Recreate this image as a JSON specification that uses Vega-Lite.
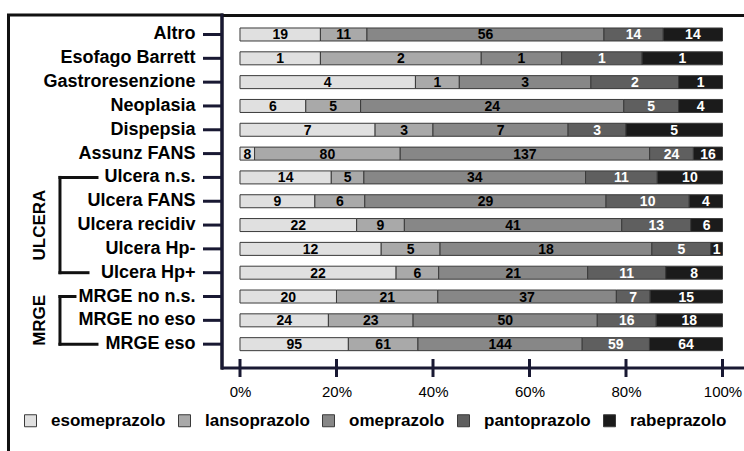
{
  "$schema": "https://vega.github.io/schema/vega-lite/v6.json",
  "autosize": {"type": "none"},
  "width": 522,
  "height": 436,
  "padding": {"left": 222, "top": 15, "right": 0, "bottom": 0},
  "background": "white",
  "config": {
    "view": {"stroke": null},
    "font": "Liberation Sans",
    "text": {"font": "Liberation Sans"}
  },
  "datasets": {
    "uso": [
      {"c": "Altro", "d": "esomeprazolo", "n": 19}, {"c": "Altro", "d": "lansoprazolo", "n": 11}, {"c": "Altro", "d": "omeprazolo", "n": 56}, {"c": "Altro", "d": "pantoprazolo", "n": 14}, {"c": "Altro", "d": "rabeprazolo", "n": 14},
      {"c": "Esofago Barrett", "d": "esomeprazolo", "n": 1}, {"c": "Esofago Barrett", "d": "lansoprazolo", "n": 2}, {"c": "Esofago Barrett", "d": "omeprazolo", "n": 1}, {"c": "Esofago Barrett", "d": "pantoprazolo", "n": 1}, {"c": "Esofago Barrett", "d": "rabeprazolo", "n": 1},
      {"c": "Gastroresenzione", "d": "esomeprazolo", "n": 4}, {"c": "Gastroresenzione", "d": "lansoprazolo", "n": 1}, {"c": "Gastroresenzione", "d": "omeprazolo", "n": 3}, {"c": "Gastroresenzione", "d": "pantoprazolo", "n": 2}, {"c": "Gastroresenzione", "d": "rabeprazolo", "n": 1},
      {"c": "Neoplasia", "d": "esomeprazolo", "n": 6}, {"c": "Neoplasia", "d": "lansoprazolo", "n": 5}, {"c": "Neoplasia", "d": "omeprazolo", "n": 24}, {"c": "Neoplasia", "d": "pantoprazolo", "n": 5}, {"c": "Neoplasia", "d": "rabeprazolo", "n": 4},
      {"c": "Dispepsia", "d": "esomeprazolo", "n": 7}, {"c": "Dispepsia", "d": "lansoprazolo", "n": 3}, {"c": "Dispepsia", "d": "omeprazolo", "n": 7}, {"c": "Dispepsia", "d": "pantoprazolo", "n": 3}, {"c": "Dispepsia", "d": "rabeprazolo", "n": 5},
      {"c": "Assunz FANS", "d": "esomeprazolo", "n": 8}, {"c": "Assunz FANS", "d": "lansoprazolo", "n": 80}, {"c": "Assunz FANS", "d": "omeprazolo", "n": 137}, {"c": "Assunz FANS", "d": "pantoprazolo", "n": 24}, {"c": "Assunz FANS", "d": "rabeprazolo", "n": 16},
      {"c": "Ulcera n.s.", "d": "esomeprazolo", "n": 14}, {"c": "Ulcera n.s.", "d": "lansoprazolo", "n": 5}, {"c": "Ulcera n.s.", "d": "omeprazolo", "n": 34}, {"c": "Ulcera n.s.", "d": "pantoprazolo", "n": 11}, {"c": "Ulcera n.s.", "d": "rabeprazolo", "n": 10},
      {"c": "Ulcera FANS", "d": "esomeprazolo", "n": 9}, {"c": "Ulcera FANS", "d": "lansoprazolo", "n": 6}, {"c": "Ulcera FANS", "d": "omeprazolo", "n": 29}, {"c": "Ulcera FANS", "d": "pantoprazolo", "n": 10}, {"c": "Ulcera FANS", "d": "rabeprazolo", "n": 4},
      {"c": "Ulcera recidiv", "d": "esomeprazolo", "n": 22}, {"c": "Ulcera recidiv", "d": "lansoprazolo", "n": 9}, {"c": "Ulcera recidiv", "d": "omeprazolo", "n": 41}, {"c": "Ulcera recidiv", "d": "pantoprazolo", "n": 13}, {"c": "Ulcera recidiv", "d": "rabeprazolo", "n": 6},
      {"c": "Ulcera Hp-", "d": "esomeprazolo", "n": 12}, {"c": "Ulcera Hp-", "d": "lansoprazolo", "n": 5}, {"c": "Ulcera Hp-", "d": "omeprazolo", "n": 18}, {"c": "Ulcera Hp-", "d": "pantoprazolo", "n": 5}, {"c": "Ulcera Hp-", "d": "rabeprazolo", "n": 1},
      {"c": "Ulcera Hp+", "d": "esomeprazolo", "n": 22}, {"c": "Ulcera Hp+", "d": "lansoprazolo", "n": 6}, {"c": "Ulcera Hp+", "d": "omeprazolo", "n": 21}, {"c": "Ulcera Hp+", "d": "pantoprazolo", "n": 11}, {"c": "Ulcera Hp+", "d": "rabeprazolo", "n": 8},
      {"c": "MRGE no n.s.", "d": "esomeprazolo", "n": 20}, {"c": "MRGE no n.s.", "d": "lansoprazolo", "n": 21}, {"c": "MRGE no n.s.", "d": "omeprazolo", "n": 37}, {"c": "MRGE no n.s.", "d": "pantoprazolo", "n": 7}, {"c": "MRGE no n.s.", "d": "rabeprazolo", "n": 15},
      {"c": "MRGE no eso", "d": "esomeprazolo", "n": 24}, {"c": "MRGE no eso", "d": "lansoprazolo", "n": 23}, {"c": "MRGE no eso", "d": "omeprazolo", "n": 50}, {"c": "MRGE no eso", "d": "pantoprazolo", "n": 16}, {"c": "MRGE no eso", "d": "rabeprazolo", "n": 18},
      {"c": "MRGE eso", "d": "esomeprazolo", "n": 95}, {"c": "MRGE eso", "d": "lansoprazolo", "n": 61}, {"c": "MRGE eso", "d": "omeprazolo", "n": 144}, {"c": "MRGE eso", "d": "pantoprazolo", "n": 59}, {"c": "MRGE eso", "d": "rabeprazolo", "n": 64}
    ],
    "gruppi": [
      {"g": "ULCERA", "mid": "Ulcera recidiv", "top": "Ulcera n.s.", "bot": "Ulcera Hp+"},
      {"g": "MRGE", "mid": "MRGE no eso", "top": "MRGE no n.s.", "bot": "MRGE eso"}
    ],
    "tacche": [{"v": 0}, {"v": 0.2}, {"v": 0.4}, {"v": 0.6}, {"v": 0.8}, {"v": 1}]
  },
  "resolve": {"axis": {"x": "independent", "y": "independent"}},
  "layer": [
    {
      "data": {"name": "uso"},
      "mark": {"type": "bar", "stroke": "#3a3a3a", "strokeWidth": 1},
      "encoding": {
        "y": {
          "field": "c", "type": "nominal",
          "scale": {"domain": ["Altro", "Esofago Barrett", "Gastroresenzione", "Neoplasia", "Dispepsia", "Assunz FANS", "Ulcera n.s.", "Ulcera FANS", "Ulcera recidiv", "Ulcera Hp-", "Ulcera Hp+", "MRGE no n.s.", "MRGE no eso", "MRGE eso", "_a", "_b", "_c", "_d"], "paddingInner": 0.4542, "paddingOuter": 0.379, "align": 0.7198},
          "axis": {"orient": "left", "values": ["Altro", "Esofago Barrett", "Gastroresenzione", "Neoplasia", "Dispepsia", "Assunz FANS", "Ulcera n.s.", "Ulcera FANS", "Ulcera recidiv", "Ulcera Hp-", "Ulcera Hp+", "MRGE no n.s.", "MRGE no eso", "MRGE eso"], "title": null, "domain": false, "ticks": false, "tickSize": 0, "labelFont": "Liberation Sans", "labelFontWeight": "bold", "labelFontSize": 18, "labelColor": "black", "labelPadding": 27, "labelLimit": 220}
        },
        "x": {
          "field": "n", "type": "quantitative", "stack": "normalize",
          "scale": {"domain": [-0.0373, 1.04456], "nice": false, "zero": false},
          "axis": {"orient": "bottom", "offset": -83, "values": [0, 0.2, 0.4, 0.6, 0.8, 1], "format": ".0%", "title": null, "grid": false, "domain": false, "ticks": false, "tickSize": 0, "labelFont": "Liberation Sans", "labelFontSize": 15, "labelColor": "black", "labelPadding": 16}
        },
        "order": {"field": "d", "type": "nominal"},
        "color": {
          "field": "d", "type": "nominal",
          "scale": {"domain": ["esomeprazolo", "lansoprazolo", "omeprazolo", "pantoprazolo", "rabeprazolo"], "range": ["#e0e0e0", "#a9a9a9", "#878787", "#5f5f5f", "#1b1b1b"]},
          "legend": {"title": null, "orient": "none", "legendX": -200, "legendY": 397, "direction": "horizontal", "padding": 0, "symbolType": "square", "symbolSize": 144, "symbolStrokeColor": "#3a3a3a", "symbolStrokeWidth": 1, "symbolOpacity": 1, "labelFont": "Liberation Sans", "labelFontWeight": "bold", "labelFontSize": 17, "labelColor": "black", "labelOffset": 12, "columnPadding": 10, "labelLimit": 200}
        }
      }
    },
    {
      "data": {"name": "uso"},
      "mark": {"type": "text", "font": "Liberation Sans", "fontWeight": "bold", "fontSize": 14, "baseline": "middle", "align": "center", "dy": 1},
      "encoding": {
        "y": {"field": "c", "type": "nominal", "axis": null},
        "x": {"field": "n", "type": "quantitative", "stack": "normalize", "bandPosition": 0.5, "axis": null},
        "detail": {"field": "d", "type": "nominal"},
        "order": {"field": "d", "type": "nominal"},
        "text": {"field": "n", "type": "quantitative"},
        "color": {"condition": {"test": "datum.d === 'pantoprazolo' || datum.d === 'rabeprazolo'", "value": "white"}, "value": "black"}
      }
    },
    {
      "data": {"values": [{}]},
      "mark": {"type": "rect", "filled": false, "stroke": "#111111", "strokeWidth": 3, "strokeCap": "square", "strokeDash": [566.5, 296.5, 436]},
      "encoding": {
        "x": {"datum": -0.4798, "type": "quantitative", "axis": {"orient": "top", "domain": true, "domainWidth": 3, "domainColor": "#111111", "ticks": false, "labels": false, "grid": false, "title": null}},
        "x2": {"datum": -0.0373}
      }
    },
    {
      "data": {"values": [{}]},
      "mark": {"type": "rule", "color": "#191933", "strokeWidth": 3, "strokeCap": "square"},
      "encoding": {
        "x": {"datum": -0.0373, "type": "quantitative", "axis": null},
        "y": {"datum": "Altro", "type": "nominal", "bandPosition": -1, "axis": null},
        "y2": {"datum": "_a", "bandPosition": 0.5}
      }
    },
    {
      "data": {"values": [{}]},
      "mark": {"type": "rule", "color": "#191933", "strokeWidth": 3},
      "encoding": {
        "x": {"datum": -0.0373, "type": "quantitative", "axis": null},
        "x2": {"datum": 1.04456},
        "y": {"datum": "_a", "type": "nominal", "axis": null}
      }
    },
    {
      "data": {"name": "tacche"},
      "mark": {"type": "tick", "orient": "vertical", "color": "#191933", "size": 18, "thickness": 3, "opacity": 1},
      "encoding": {
        "x": {"field": "v", "type": "quantitative", "axis": null},
        "y": {"datum": "_a", "type": "nominal", "axis": null}
      }
    },
    {
      "data": {"name": "uso"},
      "transform": [{"filter": "datum.d === 'esomeprazolo'"}],
      "mark": {"type": "rule", "color": "#191933", "strokeWidth": 3},
      "encoding": {
        "x": {"datum": -0.0767, "type": "quantitative", "axis": null},
        "x2": {"datum": -0.0373},
        "y": {"field": "c", "type": "nominal", "axis": null}
      }
    },
    {
      "data": {"name": "gruppi"},
      "mark": {"type": "text", "font": "Liberation Sans", "fontWeight": "bold", "fontSize": 17, "angle": 270, "align": "center", "baseline": "middle", "color": "black"},
      "encoding": {
        "x": {"datum": -0.4135, "type": "quantitative", "axis": null},
        "y": {"field": "mid", "type": "nominal", "axis": null},
        "text": {"field": "g", "type": "nominal"}
      }
    },
    {
      "data": {"name": "gruppi"},
      "mark": {"type": "rule", "color": "#111111", "strokeWidth": 3, "strokeCap": "square"},
      "encoding": {
        "x": {"datum": -0.3731, "type": "quantitative", "axis": null},
        "y": {"field": "top", "type": "nominal", "axis": null},
        "y2": {"field": "bot"}
      }
    },
    {
      "data": {"values": [{"c": "Ulcera n.s."}, {"c": "MRGE eso"}]},
      "mark": {"type": "rule", "color": "#111111", "strokeWidth": 3, "strokeCap": "square"},
      "encoding": {
        "x": {"datum": -0.3731, "type": "quantitative", "axis": null},
        "x2": {"datum": -0.2964},
        "y": {"field": "c", "type": "nominal", "axis": null}
      }
    },
    {
      "data": {"values": [{"c": "Ulcera Hp+"}]},
      "mark": {"type": "rule", "color": "#111111", "strokeWidth": 3, "strokeCap": "square"},
      "encoding": {
        "x": {"datum": -0.3731, "type": "quantitative", "axis": null},
        "x2": {"datum": -0.315},
        "y": {"field": "c", "type": "nominal", "axis": null}
      }
    },
    {
      "data": {"values": [{"c": "MRGE no n.s."}]},
      "mark": {"type": "rule", "color": "#111111", "strokeWidth": 3, "strokeCap": "square"},
      "encoding": {
        "x": {"datum": -0.3731, "type": "quantitative", "axis": null},
        "x2": {"datum": -0.342},
        "y": {"field": "c", "type": "nominal", "axis": null}
      }
    }
  ]
}
